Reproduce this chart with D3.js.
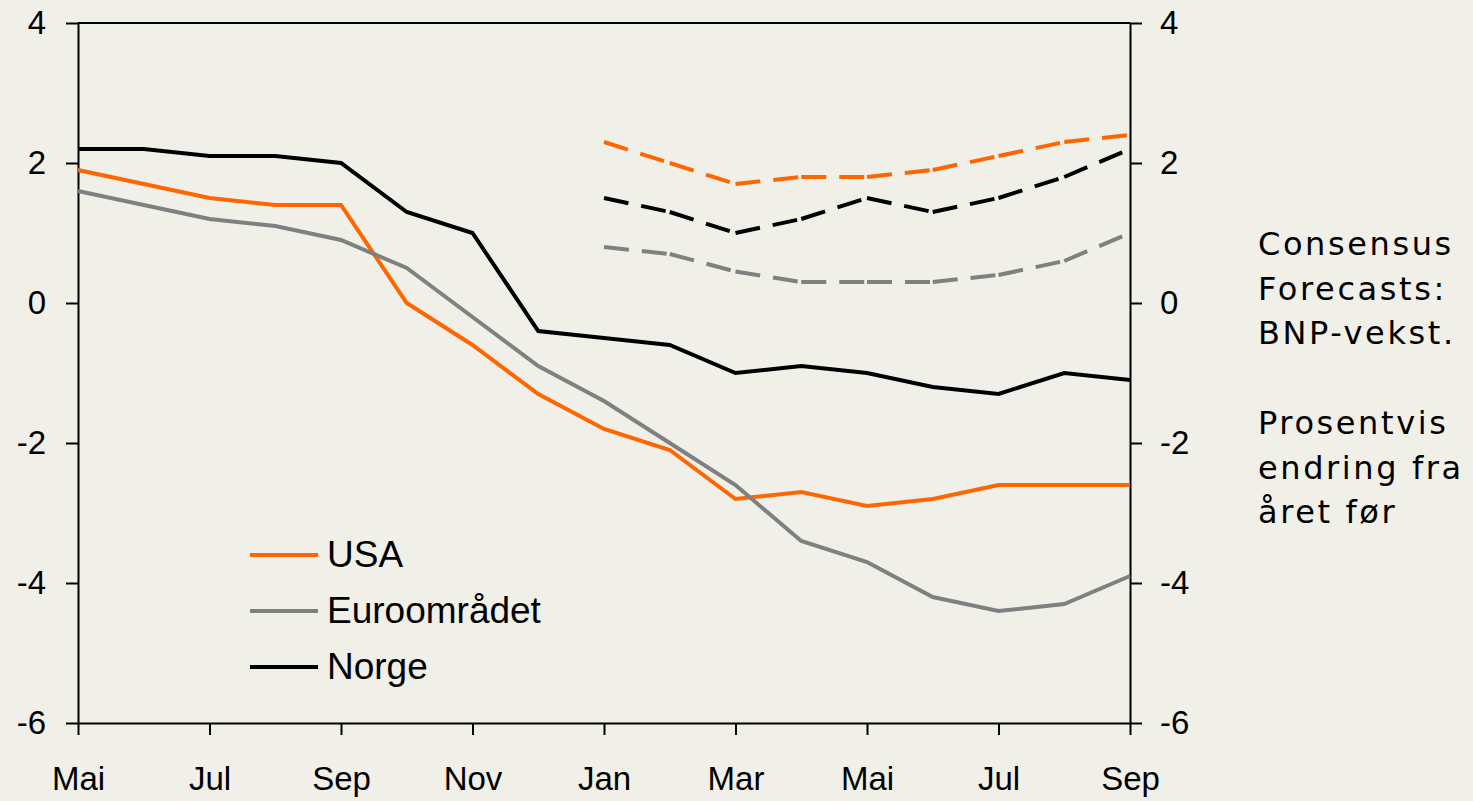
<!DOCTYPE html>
<html>
<head>
<meta charset="utf-8">
<script src="https://cdn.jsdelivr.net/npm/d3@7"></script>
<style>
  html, body { margin: 0; padding: 0; background: #f0efe8; }
  svg { display: block; }
  .axis text { font-family: "Liberation Sans", Arial, sans-serif; font-size: 33px; fill: #000; }
  .axis path, .axis line { stroke: #000; stroke-width: 2px; }
</style>
</head>
<body>
<div id="root"></div>
<script>
// monthly observations, Mai 2008 - Sep 2009
const months = ["Mai", "Jun", "Jul", "Aug", "Sep", "Okt", "Nov", "Des",
  "Jan", "Feb", "Mar", "Apr", "Mai", "Jun", "Jul", "Aug", "Sep"];
const usa = [1.9, 1.7, 1.5, 1.4, 1.4, 0.0, -0.6, -1.3, -1.8, -2.1, -2.8, -2.7, -2.9, -2.8, -2.6, -2.6, -2.6];
const euro = [1.6, 1.4, 1.2, 1.1, 0.9, 0.5, -0.2, -0.9, -1.4, -2.0, -2.6, -3.4, -3.7, -4.2, -4.4, -4.3, -3.9];
const norge = [2.2, 2.2, 2.1, 2.1, 2.0, 1.3, 1.0, -0.4, -0.5, -0.6, -1.0, -0.9, -1.0, -1.2, -1.3, -1.0, -1.1];

// Consensus Forecasts, from Jan (index 8)
const forecastStart = 8;
const usaFc = [2.3, 2.0, 1.7, 1.8, 1.8, 1.9, 2.1, 2.3, 2.4];
const euroFc = [0.8, 0.7, 0.45, 0.3, 0.3, 0.3, 0.4, 0.6, 1.0];
const norgeFc = [1.5, 1.3, 1.0, 1.2, 1.5, 1.3, 1.5, 1.8, 2.2];

const yTicks = [4, 2, 0, -2, -4, -6];
const noteLines = ["Consensus", "Forecasts:", "BNP-vekst.", "", "Prosentvis", "endring fra", "året før"];

const width = 1473;
const height = 801;
const margin = { top: 23, right: 343, bottom: 78, left: 78 };

const svg = d3
  .select("#root")
  .append("svg")
  .attr("width", width)
  .attr("height", height);

const x = d3
  .scaleLinear()
  .domain([0, months.length - 1])
  .range([margin.left, width - margin.right]);

const y = d3
  .scaleLinear()
  .domain([-6, 4])
  .range([height - margin.bottom, margin.top]);

// plain hyphen for negatives, like the original
const fmt = (d) => String(d);

// frame top
svg
  .append("line")
  .attr("x1", x(0))
  .attr("x2", x(months.length - 1))
  .attr("y1", y(4))
  .attr("y2", y(4))
  .attr("stroke", "#000")
  .attr("stroke-width", 2);

// axes
svg
  .append("g")
  .attr("class", "axis")
  .attr("transform", `translate(${x(0)},0)`)
  .call(d3.axisLeft(y).tickValues(yTicks).tickFormat(fmt).tickSize(12).tickPadding(20).tickSizeOuter(0));

svg
  .append("g")
  .attr("class", "axis")
  .attr("transform", `translate(${x(months.length - 1)},0)`)
  .call(d3.axisRight(y).tickValues(yTicks).tickFormat(fmt).tickSize(12).tickPadding(18).tickSizeOuter(0));

svg
  .append("g")
  .attr("class", "axis")
  .attr("transform", `translate(0,${y(-6)})`)
  .call(
    d3
      .axisBottom(x)
      .tickValues(d3.range(0, months.length, 2))
      .tickFormat((i) => months[i])
      .tickSize(12)
      .tickPadding(32)
      .tickSizeOuter(0)
  );

const line = d3
  .line()
  .x((d) => x(d[0]))
  .y((d) => y(d[1]));

const series = [
  { name: "USA", color: "#ff6600", values: usa, fc: usaFc },
  { name: "Euroområdet", color: "#808080", values: euro, fc: euroFc },
  { name: "Norge", color: "#000000", values: norge, fc: norgeFc },
];

// forecasts: dashes restart at each segment
series.forEach((s) => {
  const pts = s.fc.map((v, i) => [forecastStart + i, v]);
  svg
    .append("g")
    .selectAll("path")
    .data(d3.pairs(pts))
    .join("path")
    .attr("d", line)
    .attr("fill", "none")
    .attr("stroke", s.color)
    .attr("stroke-width", 4)
    .attr("stroke-dasharray", "25,13");
});

// actuals
series.forEach((s) => {
  svg
    .append("path")
    .datum(s.values.map((v, i) => [i, v]))
    .attr("d", line)
    .attr("fill", "none")
    .attr("stroke", s.color)
    .attr("stroke-width", 4);
});

// legend
const legend = svg
  .append("g")
  .selectAll("g")
  .data(series)
  .join("g")
  .attr("transform", (d, i) => `translate(250,${555 + i * 56})`);

legend
  .append("line")
  .attr("x1", 0)
  .attr("x2", 68)
  .attr("stroke", (d) => d.color)
  .attr("stroke-width", 4);

legend
  .append("text")
  .attr("x", 77)
  .attr("y", 12)
  .text((d) => d.name)
  .style("font-family", '"Liberation Sans", Arial, sans-serif')
  .style("font-size", "37px");

// note on the right
svg
  .append("g")
  .selectAll("text")
  .data(noteLines)
  .join("text")
  .attr("x", 1258)
  .attr("y", (d, i) => 255 + i * 44.7)
  .text((d) => d)
  .style("font-family", '"DejaVu Sans", Verdana, sans-serif')
  .style("font-size", "32px")
  .style("letter-spacing", "2.6px");
</script>
</body>
</html>
